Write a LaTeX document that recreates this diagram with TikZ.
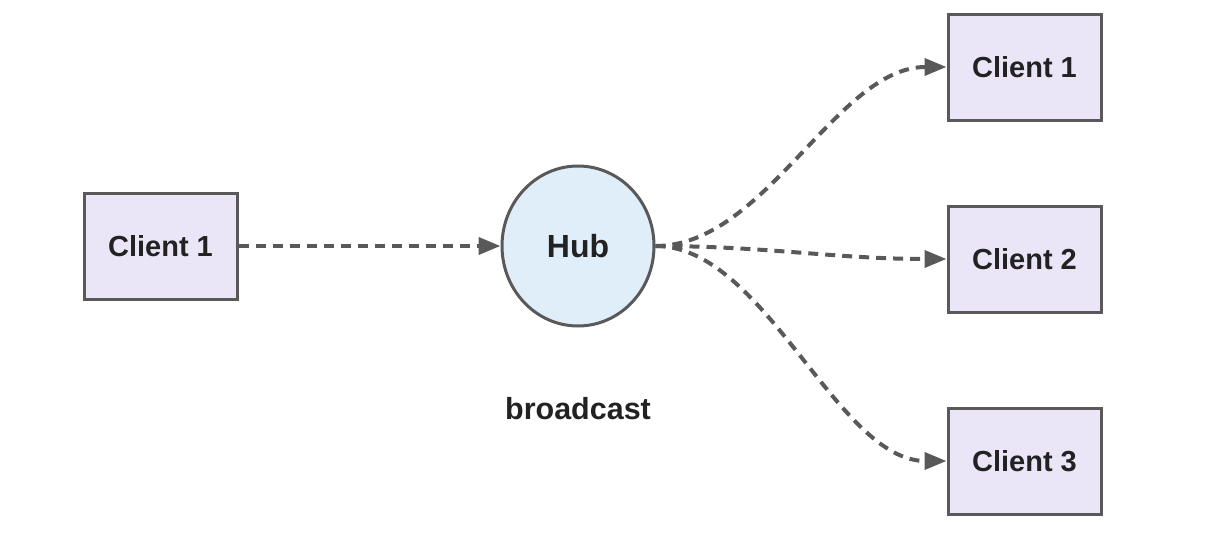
\documentclass[tikz,border=0pt]{standalone}
\usepackage{fontspec}
\setmainfont{Liberation Sans}
\usetikzlibrary{arrows.meta,shapes.geometric}
\definecolor{linec}{HTML}{595959}
\definecolor{boxfill}{HTML}{EAE6F8}
\definecolor{hubfill}{HTML}{E0EEFA}
\definecolor{txt}{HTML}{222222}
\tikzset{
  client/.style={draw=linec, line width=3pt, fill=boxfill, minimum width=153pt, minimum height=106pt, inner sep=0pt, font=\fontsize{29}{32}\selectfont\bfseries, text=txt},
  hub/.style={ellipse, draw=linec, line width=3pt, fill=hubfill, minimum width=152pt, minimum height=160pt, inner sep=0pt, font=\fontsize{32}{35}\selectfont\bfseries, text=txt},
  lbl/.style={font=\fontsize{30.5}{33}\selectfont\bfseries, text=txt},
  flow/.style={draw=linec, line width=4pt, dash pattern=on 10pt off 7pt, -{Triangle[length=22pt,width=17pt]}}
}
\begin{document}
\begin{tikzpicture}[x=1pt,y=-1pt]
\useasboundingbox (0,0) rectangle (1216,536);
\node[client] (src) at (160.5,246) {Client 1};
\node[hub] (hub) at (578,246) {Hub};
\node[client] (c1) at (1024.5,67) {Client 1};
\node[client] (c2) at (1024.5,259) {Client 2};
\node[client] (c3) at (1024.5,461) {Client 3};
\node[lbl] (bc) at (578,409) {broadcast};
\draw[flow] (src.east) -- (hub.west);
\draw[flow] (hub.east) .. controls +(110,0) and +(-110,0) .. (c1.west);
\draw[flow] (hub.east) .. controls +(110,0) and +(-110,0) .. (c2.west);
\draw[flow] (hub.east) .. controls +(110,0) and +(-110,0) .. (c3.west);
\end{tikzpicture}
\end{document}
